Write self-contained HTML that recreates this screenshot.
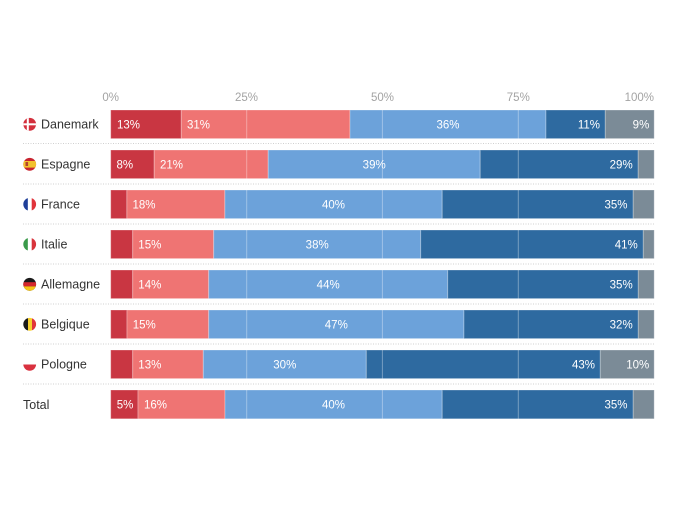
<!DOCTYPE html>
<html><head><meta charset="utf-8"><style>
html,body{margin:0;padding:0;background:#fff;}
svg{display:block;}
text{font-family:"Liberation Sans",Arial,sans-serif;}
.ax{font-size:11.5px;fill:#a3a3a3;}
.lb{font-size:12.5px;fill:#333;}
.v{font-size:11.5px;fill:#fff;}
</style></head><body>
<svg width="688" height="516" viewBox="0 0 688 516" xmlns="http://www.w3.org/2000/svg">
<defs>
<clipPath id="c0"><circle cx="29.7" cy="124.3" r="6.4"/></clipPath>
<clipPath id="c1"><circle cx="29.7" cy="164.3" r="6.4"/></clipPath>
<clipPath id="c2"><circle cx="29.7" cy="204.3" r="6.4"/></clipPath>
<clipPath id="c3"><circle cx="29.7" cy="244.3" r="6.4"/></clipPath>
<clipPath id="c4"><circle cx="29.7" cy="284.3" r="6.4"/></clipPath>
<clipPath id="c5"><circle cx="29.7" cy="324.3" r="6.4"/></clipPath>
<clipPath id="c6"><circle cx="29.7" cy="364.3" r="6.4"/></clipPath>
</defs>

<!-- axis labels -->
<text class="ax" x="110.7" y="101" text-anchor="middle">0%</text>
<text class="ax" x="246.5" y="101" text-anchor="middle">25%</text>
<text class="ax" x="382.5" y="101" text-anchor="middle">50%</text>
<text class="ax" x="518.3" y="101" text-anchor="middle">75%</text>
<text class="ax" x="654" y="101" text-anchor="end">100%</text>

<!-- separators -->
<g stroke="#d0d0d0" stroke-width="1" stroke-dasharray="1,1.5">
<line x1="23" y1="143.5" x2="654" y2="143.5"/>
<line x1="23" y1="184" x2="654" y2="184"/>
<line x1="23" y1="224" x2="654" y2="224"/>
<line x1="23" y1="264" x2="654" y2="264"/>
<line x1="23" y1="304" x2="654" y2="304"/>
<line x1="23" y1="344" x2="654" y2="344"/>
<line x1="23" y1="384" x2="654" y2="384"/>
</g>

<!-- bars -->
<g stroke="rgba(255,255,255,0.28)" stroke-width="1">
<!-- Danemark -->
<rect x="110.7" y="110" width="70.6" height="28.6" fill="#c93642"/>
<rect x="181.3" y="110" width="168.7" height="28.6" fill="#ef7473"/>
<rect x="350" y="110" width="196" height="28.6" fill="#6ca2da"/>
<rect x="546" y="110" width="59.3" height="28.6" fill="#2e6aa0"/>
<rect x="605.3" y="110" width="48.9" height="28.6" fill="#7b8b97"/>
<!-- Espagne -->
<rect x="110.7" y="150" width="43.5" height="28.6" fill="#c93642"/>
<rect x="154.2" y="150" width="114" height="28.6" fill="#ef7473"/>
<rect x="268.2" y="150" width="212" height="28.6" fill="#6ca2da"/>
<rect x="480.2" y="150" width="158" height="28.6" fill="#2e6aa0"/>
<rect x="638.2" y="150" width="16" height="28.6" fill="#7b8b97"/>
<!-- France -->
<rect x="110.7" y="190" width="16.2" height="28.6" fill="#c93642"/>
<rect x="126.9" y="190" width="98" height="28.6" fill="#ef7473"/>
<rect x="224.9" y="190" width="217.3" height="28.6" fill="#6ca2da"/>
<rect x="442.2" y="190" width="191" height="28.6" fill="#2e6aa0"/>
<rect x="633.2" y="190" width="21" height="28.6" fill="#7b8b97"/>
<!-- Italie -->
<rect x="110.7" y="230" width="22" height="28.6" fill="#c93642"/>
<rect x="132.7" y="230" width="81" height="28.6" fill="#ef7473"/>
<rect x="213.7" y="230" width="207" height="28.6" fill="#6ca2da"/>
<rect x="420.7" y="230" width="222.6" height="28.6" fill="#2e6aa0"/>
<rect x="643.3" y="230" width="10.9" height="28.6" fill="#7b8b97"/>
<!-- Allemagne -->
<rect x="110.7" y="270" width="22" height="28.6" fill="#c93642"/>
<rect x="132.7" y="270" width="76" height="28.6" fill="#ef7473"/>
<rect x="208.7" y="270" width="239" height="28.6" fill="#6ca2da"/>
<rect x="447.7" y="270" width="190.6" height="28.6" fill="#2e6aa0"/>
<rect x="638.3" y="270" width="15.9" height="28.6" fill="#7b8b97"/>
<!-- Belgique -->
<rect x="110.7" y="310" width="16.3" height="28.6" fill="#c93642"/>
<rect x="127" y="310" width="81.7" height="28.6" fill="#ef7473"/>
<rect x="208.7" y="310" width="255.3" height="28.6" fill="#6ca2da"/>
<rect x="464" y="310" width="174.3" height="28.6" fill="#2e6aa0"/>
<rect x="638.3" y="310" width="15.9" height="28.6" fill="#7b8b97"/>
<!-- Pologne -->
<rect x="110.7" y="350" width="22" height="28.6" fill="#c93642"/>
<rect x="132.7" y="350" width="70.6" height="28.6" fill="#ef7473"/>
<rect x="203.3" y="350" width="163" height="28.6" fill="#6ca2da"/>
<rect x="366.3" y="350" width="234" height="28.6" fill="#2e6aa0"/>
<rect x="600.3" y="350" width="53.9" height="28.6" fill="#7b8b97"/>
<!-- Total -->
<rect x="110.7" y="390" width="27.3" height="28.8" fill="#c93642"/>
<rect x="138" y="390" width="87" height="28.8" fill="#ef7473"/>
<rect x="225" y="390" width="217.2" height="28.8" fill="#6ca2da"/>
<rect x="442.2" y="390" width="191" height="28.8" fill="#2e6aa0"/>
<rect x="633.2" y="390" width="21" height="28.8" fill="#7b8b97"/>
</g>

<!-- gridlines over bars -->
<g stroke="rgba(255,255,255,0.35)" stroke-width="1">
<line x1="246.7" y1="110" x2="246.7" y2="138.6"/><line x1="382.4" y1="110" x2="382.4" y2="138.6"/><line x1="518.3" y1="110" x2="518.3" y2="138.6"/>
<line x1="246.7" y1="150" x2="246.7" y2="178.6"/><line x1="382.4" y1="150" x2="382.4" y2="178.6"/><line x1="518.3" y1="150" x2="518.3" y2="178.6"/>
<line x1="246.7" y1="190" x2="246.7" y2="218.6"/><line x1="382.4" y1="190" x2="382.4" y2="218.6"/><line x1="518.3" y1="190" x2="518.3" y2="218.6"/>
<line x1="246.7" y1="230" x2="246.7" y2="258.6"/><line x1="382.4" y1="230" x2="382.4" y2="258.6"/><line x1="518.3" y1="230" x2="518.3" y2="258.6"/>
<line x1="246.7" y1="270" x2="246.7" y2="298.6"/><line x1="382.4" y1="270" x2="382.4" y2="298.6"/><line x1="518.3" y1="270" x2="518.3" y2="298.6"/>
<line x1="246.7" y1="310" x2="246.7" y2="338.6"/><line x1="382.4" y1="310" x2="382.4" y2="338.6"/><line x1="518.3" y1="310" x2="518.3" y2="338.6"/>
<line x1="246.7" y1="350" x2="246.7" y2="378.6"/><line x1="382.4" y1="350" x2="382.4" y2="378.6"/><line x1="518.3" y1="350" x2="518.3" y2="378.6"/>
<line x1="246.7" y1="390" x2="246.7" y2="418.8"/><line x1="382.4" y1="390" x2="382.4" y2="418.8"/><line x1="518.3" y1="390" x2="518.3" y2="418.8"/>
</g>

<!-- value labels -->
<g class="v">
<text class="v" x="117" y="128.5">13%</text>
<text class="v" x="187" y="128.5">31%</text>
<text class="v" x="448" y="128.5" text-anchor="middle">36%</text>
<text class="v" x="600" y="128.5" text-anchor="end">11%</text>
<text class="v" x="649.3" y="128.5" text-anchor="end">9%</text>

<text class="v" x="116.5" y="168.5">8%</text>
<text class="v" x="160" y="168.5">21%</text>
<text class="v" x="374.2" y="168.5" text-anchor="middle">39%</text>
<text class="v" x="632.7" y="168.5" text-anchor="end">29%</text>

<text class="v" x="132.5" y="208.5">18%</text>
<text class="v" x="333.5" y="208.5" text-anchor="middle">40%</text>
<text class="v" x="627.5" y="208.5" text-anchor="end">35%</text>

<text class="v" x="138.3" y="248.5">15%</text>
<text class="v" x="317.2" y="248.5" text-anchor="middle">38%</text>
<text class="v" x="637.8" y="248.5" text-anchor="end">41%</text>

<text class="v" x="138.3" y="288.5">14%</text>
<text class="v" x="328.2" y="288.5" text-anchor="middle">44%</text>
<text class="v" x="632.7" y="288.5" text-anchor="end">35%</text>

<text class="v" x="132.7" y="328.5">15%</text>
<text class="v" x="336.3" y="328.5" text-anchor="middle">47%</text>
<text class="v" x="632.7" y="328.5" text-anchor="end">32%</text>

<text class="v" x="138.3" y="368.5">13%</text>
<text class="v" x="284.8" y="368.5" text-anchor="middle">30%</text>
<text class="v" x="595" y="368.5" text-anchor="end">43%</text>
<text class="v" x="649.3" y="368.5" text-anchor="end">10%</text>

<text class="v" x="116.7" y="408.7">5%</text>
<text class="v" x="144" y="408.7">16%</text>
<text class="v" x="333.5" y="408.7" text-anchor="middle">40%</text>
<text class="v" x="627.5" y="408.7" text-anchor="end">35%</text>
</g>

<!-- flags -->
<g clip-path="url(#c0)">
<rect x="22" y="116" width="16" height="17" fill="#d32f3c"/>
<rect x="26.8" y="116" width="2" height="17" fill="#fff"/>
<rect x="22" y="123.3" width="16" height="2" fill="#fff"/>
</g>
<g clip-path="url(#c1)">
<rect x="22" y="156" width="16" height="17" fill="#c8242f"/>
<rect x="22" y="161" width="16" height="6.6" fill="#f2c12e"/>
<rect x="25.5" y="162" width="2.6" height="4" fill="#b3432c"/>
</g>
<g clip-path="url(#c2)">
<rect x="22" y="196" width="5.9" height="17" fill="#1f3f99"/>
<rect x="27.9" y="196" width="3.8" height="17" fill="#fff"/>
<rect x="31.7" y="196" width="6" height="17" fill="#e0343b"/>
</g>
<g clip-path="url(#c3)">
<rect x="22" y="236" width="5.9" height="17" fill="#3a9a4a"/>
<rect x="27.9" y="236" width="3.8" height="17" fill="#fff"/>
<rect x="31.7" y="236" width="6" height="17" fill="#d8343c"/>
</g>
<g clip-path="url(#c4)">
<rect x="22" y="276" width="16" height="17" fill="#1a1a1a"/>
<rect x="22" y="282.2" width="16" height="4.2" fill="#d4282e"/>
<rect x="22" y="286.4" width="16" height="7" fill="#f5c518"/>
</g>
<g clip-path="url(#c5)">
<rect x="22" y="316" width="6" height="17" fill="#1a1a1a"/>
<rect x="28" y="316" width="4" height="17" fill="#f6d02f"/>
<rect x="32" y="316" width="6" height="17" fill="#e0343b"/>
</g>
<g clip-path="url(#c6)">
<rect x="22" y="356" width="16" height="17" fill="#fff"/>
<rect x="22" y="364.5" width="16" height="8" fill="#d9313f"/>
</g>

<!-- row labels -->
<text class="lb" x="41" y="128.7">Danemark</text>
<text class="lb" x="41" y="168.7">Espagne</text>
<text class="lb" x="41" y="208.7">France</text>
<text class="lb" x="41" y="248.7">Italie</text>
<text class="lb" x="41" y="288.7">Allemagne</text>
<text class="lb" x="41" y="328.7">Belgique</text>
<text class="lb" x="41" y="368.7">Pologne</text>
<text class="lb" x="23" y="408.9">Total</text>
</svg>
</body></html>
